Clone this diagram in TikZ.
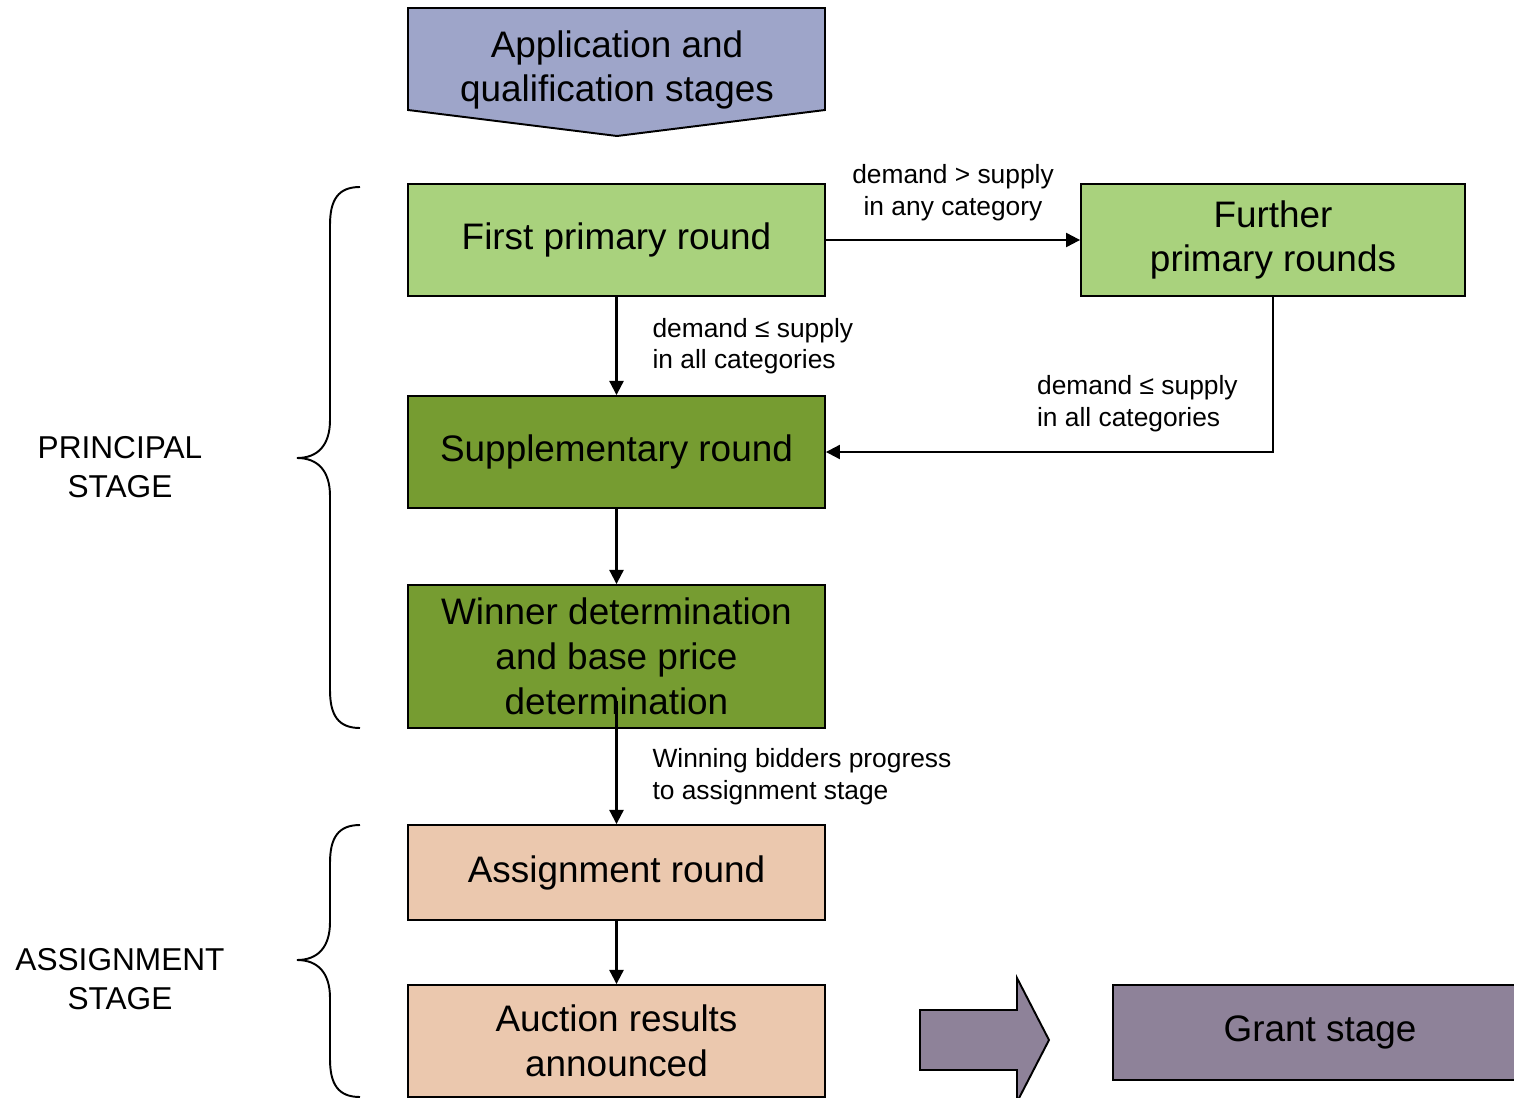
\documentclass[tikz,border=0pt]{standalone}
\usepackage{fontspec}
\setmainfont{Liberation Sans}
\usetikzlibrary{arrows.meta,positioning,calc}

\definecolor{appblue}{RGB}{158,165,201}
\definecolor{lightgreen}{RGB}{169,210,125}
\definecolor{darkgreen}{RGB}{118,156,49}
\definecolor{peach}{RGB}{235,200,174}
\definecolor{grantpurple}{RGB}{142,130,153}

\begin{document}
\begin{tikzpicture}[x=0.02cm,y=-0.02cm,
  box/.style={draw,line width=1.1pt,minimum width=8.34cm,minimum height=2.24cm,
    align=center,inner sep=0pt,font=\fontsize{21}{25.5}\selectfont},
  flow/.style={line width=1.2pt,-{Triangle[length=8pt,width=8pt]}},
  lbl/.style={align=left,inner sep=0pt,font=\fontsize{15}{18}\selectfont},
  stage/.style={align=center,inner sep=0pt,font=\fontsize{18}{22}\selectfont}]

\useasboundingbox (0,0) rectangle (1514,1098);

% entry stage
\draw[fill=appblue,line width=1.1pt]
	(408,8) -- (825,8) -- (825,110) -- (617,136) -- (408,110) -- cycle;
\node[align=center,inner sep=0pt,font=\fontsize{21}{25.5}\selectfont] (app)
	at (617,70) {Application and\\qualification stages};

% rounds
\node[box,fill=lightgreen] (first) at (616.5,240) {First primary round};
\node[box,fill=lightgreen,minimum width=7.68cm] (further) at (1273,240) {Further\\primary rounds};
\node[box,fill=darkgreen] (supp) at (616.5,452) {Supplementary round};
\node[box,fill=darkgreen,minimum height=2.86cm] (win) at (616.5,656.5)
	{Winner determination\\and base price\\determination};
\node[box,fill=peach,minimum height=1.9cm] (assign) at (616.5,872.5) {Assignment round};
\node[box,fill=peach] (results) at (616.5,1041) {Auction results\\announced};
\node[box,fill=grantpurple,minimum width=8.28cm,minimum height=1.9cm] (grant)
	at (1320,1032.5) {Grant stage};

% transitions
\draw[flow] (first.east) -- node[lbl,align=center,above=0.36cm] {demand > supply\\in any category} (further.west);
\draw[flow] (first.south) -- node[lbl,right=0.7cm] {demand ≤ supply\\in all categories} (supp.north);
\draw[flow] (further.south) |- node[lbl,pos=0.765,anchor=south west,yshift=0.38cm]
	{demand ≤ supply\\in all categories} (supp.east);
\draw[flow] (supp) -- (win);
\draw[flow] ([yshift=16pt]win.south) -- node[lbl,right=0.7cm,yshift=-8pt]
	{Winning bidders progress\\to assignment stage} (assign);
\draw[flow] (assign) -- (results);

% to grant stage
\draw[fill=grantpurple,line width=1.1pt]
	(920,1010) -- (1017,1010) -- (1017,978) -- (1049,1040) -- (1017,1102) -- (1017,1070) -- (920,1070) -- cycle;

% braces
\draw[line width=1.1pt] (360,187) .. controls (338,187) and (330,200) .. (330,225)
	-- (330,420) .. controls (330,445) and (318,458) .. (297,458)
	.. controls (318,458) and (330,471) .. (330,496)
	-- (330,690) .. controls (330,715) and (338,728) .. (360,728);
\draw[line width=1.1pt] (360,825) .. controls (338,825) and (330,838) .. (330,863)
	-- (330,922) .. controls (330,947) and (318,960) .. (297,960)
	.. controls (318,960) and (330,973) .. (330,998)
	-- (330,1059) .. controls (330,1084) and (338,1097) .. (360,1097);

\node[stage] (principal) at (120,467) {PRINCIPAL\\STAGE};
\node[stage] (assignment) at (120,979) {ASSIGNMENT\\STAGE};

\end{tikzpicture}
\end{document}
